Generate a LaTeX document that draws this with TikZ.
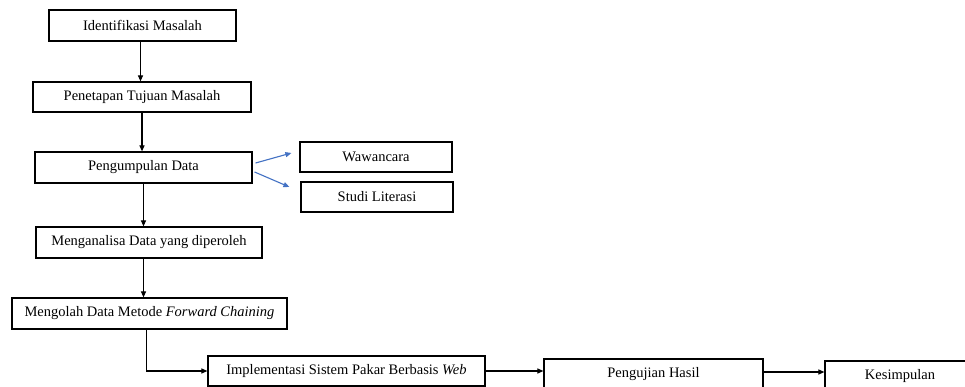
\documentclass[tikz,border=0pt]{standalone}
\usepackage{fontspec}
\setmainfont{Liberation Serif}
\usetikzlibrary{arrows.meta}
\definecolor{linkblue}{RGB}{68,114,196}
\begin{document}
\begin{tikzpicture}[x=1pt,y=-1pt,
  stage/.style={draw=black, line width=1.2pt, inner sep=0pt, align=center,
    font=\fontsize{14.5}{17}\selectfont},
  arr/.style={line width=1.1pt, -{Triangle[length=6pt,width=5pt]}},
  subarr/.style={draw=linkblue, line width=1.1pt, -{Triangle[length=6pt,width=5pt]}}]
\useasboundingbox (0,0) rectangle (965,387);
\clip (0,0) rectangle (965,387);
\fill[white] (0,0) rectangle (965,387);

\node[stage, minimum width=187pt, minimum height=31pt] (n1) at (142.5,25.5) {Identifikasi Masalah};
\node[stage, minimum width=218pt, minimum height=30pt] (n2) at (142,97) {Penetapan Tujuan Masalah};
\node[stage, minimum width=217pt, minimum height=31pt] (n3) at (143.5,167.5) {Pengumpulan Data};
\node[stage, minimum width=152pt, minimum height=30pt] (w) at (376,157) {Wawancara};
\node[stage, minimum width=152pt, minimum height=30pt] (s) at (377,197) {Studi Literasi};
\node[stage, minimum width=226pt, minimum height=31pt] (n4) at (149,242.5) {Menganalisa Data yang diperoleh};
\node[stage, minimum width=275pt, minimum height=31pt] (n5) at (149.5,313.5) {Mengolah Data Metode \textit{Forward Chaining}};
\node[stage, minimum width=277pt, minimum height=30pt] (n6) at (346.5,371) {Implementasi Sistem Pakar Berbasis \textit{Web}};
\node[stage, minimum width=219pt, minimum height=30pt] (n7) at (653.5,374) {Pengujian Hasil};
\node[stage, minimum width=150pt, minimum height=30pt] (n8) at (900,376) {Kesimpulan};

\draw[arr] (n1.south -| n1.south) ++(-2,0) coordinate (a1) -- (a1 |- n2.north);
\draw[arr] (n2.south) -- (n2.south |- n3.north);
\draw[arr] (n3.south) -- (n3.south |- n4.north);
\draw[arr] (n3.south |- n4.south) -- (n3.south |- n5.north);
\draw[arr] ([xshift=-3pt]n5.south) |- (n6.west);
\draw[arr] (n6.east) -- (n6.east -| n7.west);
\draw[arr] (n7.east |- n6.east) ++(0,1) coordinate (a7) -- (a7 -| n8.west);

\draw[subarr] ([xshift=3pt,yshift=4.5pt]n3.east) -- ([xshift=-8pt,yshift=4pt]w.west);
\draw[subarr] ([xshift=2pt,yshift=-4.5pt]n3.east) -- ([xshift=-11pt,yshift=10pt]s.west);
\end{tikzpicture}
\end{document}
